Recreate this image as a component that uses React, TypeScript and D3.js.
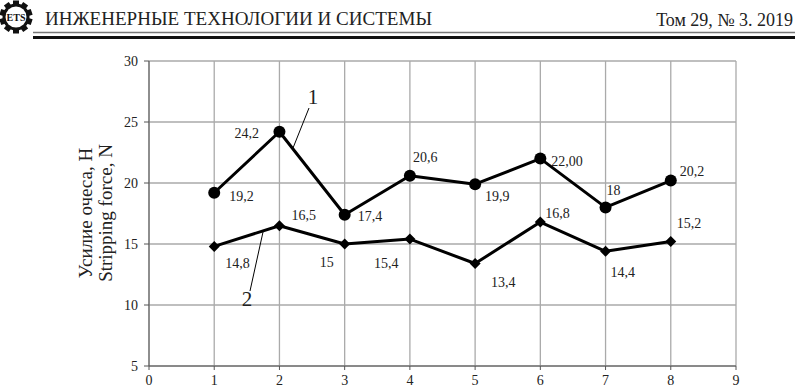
import React from "react";
import * as d3 from "d3";

const xs = [1, 2, 3, 4, 5, 6, 7, 8];
const series1 = [19.2, 24.2, 17.4, 20.6, 19.9, 22.0, 18, 20.2];
const series2 = [14.8, 16.5, 15, 15.4, 13.4, 16.8, 14.4, 15.2];
const labels1 = ["19,2", "24,2", "17,4", "20,6", "19,9", "22,00", "18", "20,2"];
const labels2 = ["14,8", "16,5", "15", "15,4", "13,4", "16,8", "14,4", "15,2"];
const xTicks = [0, 1, 2, 3, 4, 5, 6, 7, 8, 9];
const yTicks = [5, 10, 15, 20, 25, 30];

// label offsets (dx, dy) relative to point
const off1: [number, number][] = [[15, 8], [-45, 6], [13, 6], [3, -14], [10, 17], [11, 7], [1, -12], [9, -5]];
const off2: [number, number][] = [[11, 22], [12, -6], [-25, 23], [-36, 29], [16, 23], [5, -4], [5, 26], [6, -14]];

const FONT = "'Liberation Serif', 'Times New Roman', serif";

export default function App() {
  const W = 795, H = 387;
  const x = d3.scaleLinear().domain([0, 9]).range([149, 736]);
  const y = d3.scaleLinear().domain([5, 30]).range([366, 61]);
  const line = d3.line<number>().x((_, i) => x(xs[i])).y((d) => y(d));

  const gearTeeth = d3.range(10).map((i) => (i * 360) / 10);

  return (
    <svg width={W} height={H} style={{ position: "absolute", left: 0, top: 0, background: "#fff" }} fontFamily={FONT}>
      <rect width={W} height={H} fill="#fff" />
      {/* logo */}
      <g transform="translate(16,17)">
        {gearTeeth.map((a) => (
          <rect key={a} x={-3} y={-16.5} width={6} height={6} fill="#111" transform={`rotate(${a})`} />
        ))}
        <circle r={13.5} fill="#111" />
        <circle r={10.5} fill="#fff" />
        <text x={0} y={3.5} textAnchor="middle" fontSize={10} fontWeight="bold" fill="#111">ETS</text>
      </g>
      <text x={45} y={25} fontSize={19} textLength={387} lengthAdjust="spacingAndGlyphs" fill="#222">ИНЖЕНЕРНЫЕ ТЕХНОЛОГИИ И СИСТЕМЫ</text>
      <text x={793} y={26} fontSize={18} textAnchor="end" fill="#222">Том 29, № 3. 2019</text>
      <line x1={33} x2={795} y1={32.5} y2={32.5} stroke="#777" strokeWidth={1.5} />
      <line x1={33} x2={795} y1={37.5} y2={37.5} stroke="#111" strokeWidth={3} />

      {/* grid */}
      {yTicks.map((t) => (
        <line key={"gy" + t} x1={x(0)} x2={x(9)} y1={y(t)} y2={y(t)} stroke="#aaa" strokeWidth={1.3} />
      ))}
      {xTicks.map((t) => (
        <line key={"gx" + t} x1={x(t)} x2={x(t)} y1={y(30)} y2={y(5)} stroke="#aaa" strokeWidth={1.3} />
      ))}
      {/* axes */}
      <line x1={x(0)} x2={x(0)} y1={y(30)} y2={y(5)} stroke="#555" strokeWidth={1} />
      <line x1={x(0)} x2={x(9)} y1={y(5)} y2={y(5)} stroke="#555" strokeWidth={1} />
      {yTicks.map((t) => (
        <g key={"ty" + t}>
          <line x1={x(0) - 5} x2={x(0)} y1={y(t)} y2={y(t)} stroke="#555" />
          <text x={x(0) - 11} y={y(t) + 5} fontSize={14} textAnchor="end" fill="#222">{t}</text>
        </g>
      ))}
      {xTicks.map((t) => (
        <g key={"tx" + t}>
          <line x1={x(t)} x2={x(t)} y1={y(5)} y2={y(5) + 4} stroke="#555" />
          <text x={x(t)} y={y(5) + 19} fontSize={14} textAnchor="middle" fill="#222">{t}</text>
        </g>
      ))}
      {/* y title */}
      <g transform="translate(92,213) rotate(-90)">
        <text x={0} y={0} fontSize={19} textAnchor="middle" fill="#222">Усилие очеса, Н</text>
        <text x={0} y={20} fontSize={19} textAnchor="middle" fill="#222">Stripping force, N</text>
      </g>

      {/* series */}
      <path d={line(series1) || ""} fill="none" stroke="#000" strokeWidth={3} strokeLinejoin="round" />
      <path d={line(series2) || ""} fill="none" stroke="#000" strokeWidth={3} strokeLinejoin="round" />
      {series1.map((v, i) => (
        <circle key={"c" + i} cx={x(xs[i])} cy={y(v)} r={6} fill="#000" />
      ))}
      {series2.map((v, i) => (
        <path key={"d" + i} d="M0,-5.5L5.5,0L0,5.5L-5.5,0Z" transform={`translate(${x(xs[i])},${y(v)})`} fill="#000" />
      ))}
      {series1.map((v, i) => (
        <text key={"l1" + i} x={x(xs[i]) + off1[i][0]} y={y(v) + off1[i][1]} fontSize={14} fill="#222">{labels1[i]}</text>
      ))}
      {series2.map((v, i) => (
        <text key={"l2" + i} x={x(xs[i]) + off2[i][0]} y={y(v) + off2[i][1]} fontSize={14} fill="#222">{labels2[i]}</text>
      ))}

      {/* annotations */}
      <line x1={309} y1={108} x2={293} y2={148} stroke="#000" strokeWidth={1} />
      <text x={313} y={104} fontSize={21} textAnchor="middle" fill="#222">1</text>
      <line x1={263} y1={232} x2={250} y2={291} stroke="#000" strokeWidth={1} />
      <text x={247} y={306} fontSize={21} textAnchor="middle" fill="#222">2</text>
    </svg>
  );
}
